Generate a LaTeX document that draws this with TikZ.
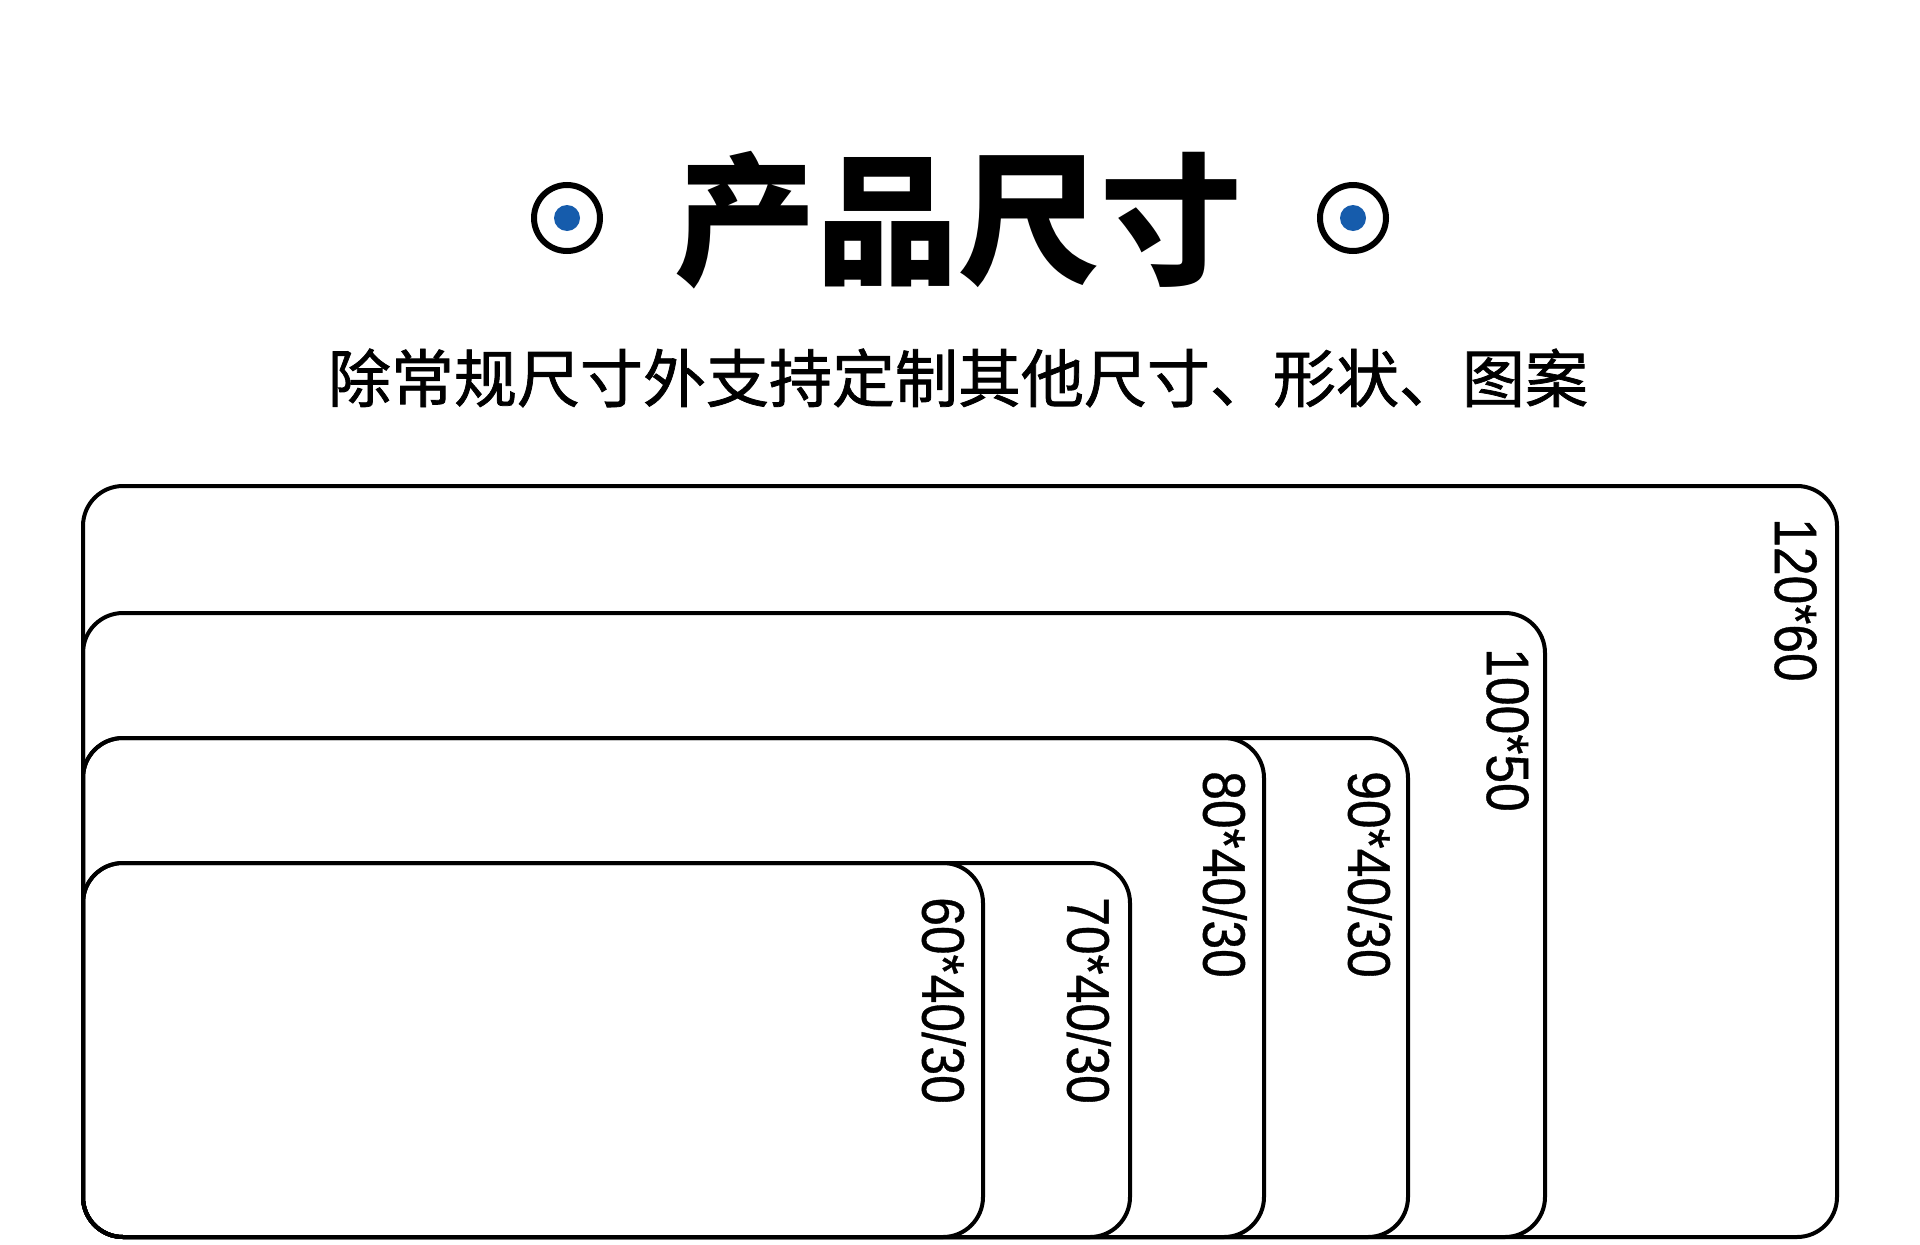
\documentclass[tikz,border=0pt]{standalone}
\usepackage{fontspec}
\usepackage{xcolor}
\usetikzlibrary{positioning}
\newfontfamily\cjk{Noto Sans CJK SC}
\newfontfamily\cjkmid[FakeBold=1.2]{Noto Sans CJK SC}
\newfontfamily\sizefont[FakeStretch=0.86, FakeBold=0.6]{Liberation Sans}
\definecolor{dotblue}{RGB}{22,92,172}

\begin{document}
\begin{tikzpicture}[
            x=1pt, y=-1pt,
            board/.style={draw=black, line width=4pt, rounded corners=40pt},
            sizelabel/.style={rotate=-90, anchor=north west, inner sep=0pt, font=\sizefont\fontsize{60}{60}\selectfont},
            ring/.style={circle, draw=black, line width=6pt, minimum size=66pt, inner sep=0pt},
            bluedot/.style={circle, fill=dotblue, minimum size=26pt, inner sep=0pt}
        ]
            \useasboundingbox (0,0) rectangle (1920,1245);

            % heading
            \node[font=\cjk\bfseries\fontsize{142}{142}\selectfont, inner sep=0pt] (title) at (958,220) {产品尺寸};
            \node[ring] (lring) at (567,218) {};
            \node[ring] (rring) at (1353,218) {};
            \node[bluedot] (ldot) at (lring) {};
            \node[bluedot] (rdot) at (rring) {};
            \node[font=\cjkmid\fontsize{63}{63}\selectfont, inner sep=0pt] (subtitle) at (958,378) {除常规尺寸外支持定制其他尺寸、形状、图案};

            % boards, all sharing the left and bottom edge
            \draw[board] (83,486) rectangle (1837,1237);
            \draw[board] (83,613) rectangle (1545,1237);
            \draw[board] (83,738) rectangle (1408,1237);
            \draw[board] (83,738) rectangle (1264,1237);
            \draw[board] (83,863) rectangle (1130,1237);
            \draw[board] (83,863) rectangle (983,1237);

            \node[sizelabel] (s120) at (1817,518) {120*60};
            \node[sizelabel] (s100) at (1529,648) {100*50};
            \node[sizelabel] (s90) at (1392,771) {90*40/30};
            \node[sizelabel] (s80) at (1247,771) {80*40/30};
            \node[sizelabel] (s70) at (1111,897) {70*40/30};
            \node[sizelabel] (s60) at (966,897) {60*40/30};
        \end{tikzpicture}
\end{document}
